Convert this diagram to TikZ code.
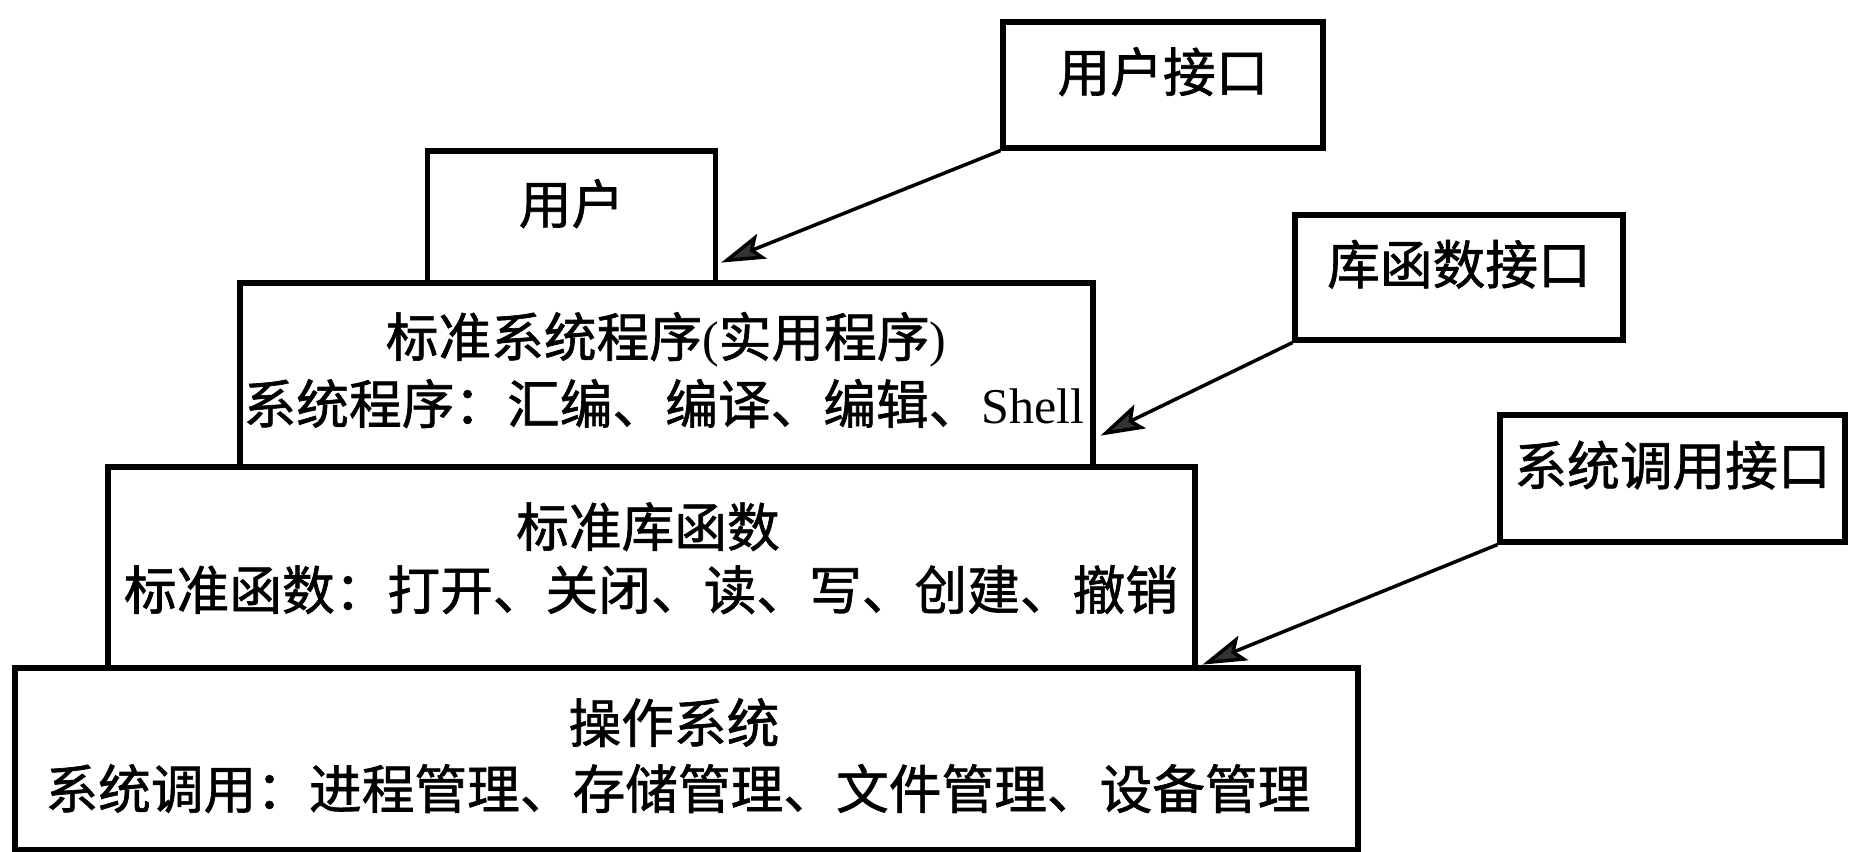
\documentclass[tikz,border=0pt]{standalone}
\usepackage{fontspec}
\newfontfamily\cjk{Noto Sans CJK SC}[FakeBold=1.2]
\newfontfamily\latin{Liberation Serif}[Scale=0.95]
\usetikzlibrary{arrows.meta,calc}

\begin{document}
\begin{tikzpicture}[x=0.02cm,y=-0.02cm,
  layer/.style={draw=black, line width=3pt, rectangle, inner sep=0pt},
  words/.style={inner sep=0pt, text height=0.76em, text depth=0pt,
                font=\fontsize{30}{36}\cjk},
  link/.style={draw=black, line width=2pt,
               -{Stealth[length=25pt,width=15pt,inset=5pt,fill=black!80]}}]
\useasboundingbox (0,0) rectangle (1864,852);

% layered system: operating system at the bottom, the user on top
\node[layer, minimum width=26.86cm, minimum height=3.64cm] (os)   at (686.5,759)   {};
\node[layer, minimum width=21.74cm, minimum height=4.02cm] (lib)  at (651.5,567.5) {};
\node[layer, minimum width=17.06cm, minimum height=3.68cm] (util) at (666.5,375)   {};
\node[layer, minimum width=5.76cm,  minimum height=2.64cm] (user) at (571.5,217)   {};

% texts inside the layers
\node[words] (user-t) at (user.center) {用户};
\node[words] (util-a) at (666,350) {标准系统程序{\latin (}实用程序{\latin )}};
\node[words] (util-b) at (664,417) {系统程序：汇编、编译、编辑、{\latin Shell}};
\node[words] (lib-a)  at (648,540) {标准库函数};
\node[words] (lib-b)  at (651,603) {标准函数：打开、关闭、读、写、创建、撤销};
\node[words] (os-a)   at (674,736) {操作系统};
\node[words] (os-b)   at (678,802) {系统调用：进程管理、存储管理、文件管理、设备管理};

% interface boxes
\node[layer, minimum width=6.4cm,  minimum height=2.52cm] (ui)   at (1163,85)     {};
\node[layer, minimum width=6.56cm, minimum height=2.5cm]  (libi) at (1459,277.5)  {};
\node[layer, minimum width=6.9cm,  minimum height=2.54cm] (sci)  at (1672.5,478.5){};
\node[words] (ui-t)   at (ui.center)   {用户接口};
\node[words] (libi-t) at (libi.center) {库函数接口};
\node[words] (sci-t)  at (sci.center)  {系统调用接口};

% pointers from each interface to the boundary it names
\draw[link] (ui.south west)   -- ($(user.south east)+(3,-23)$);
\draw[link] (libi.south west) -- ($(util.south east)+(5,-34)$);
\draw[link] (sci.south west)  -- ($(lib.south east)+(5,-6)$);
\end{tikzpicture}
\end{document}
